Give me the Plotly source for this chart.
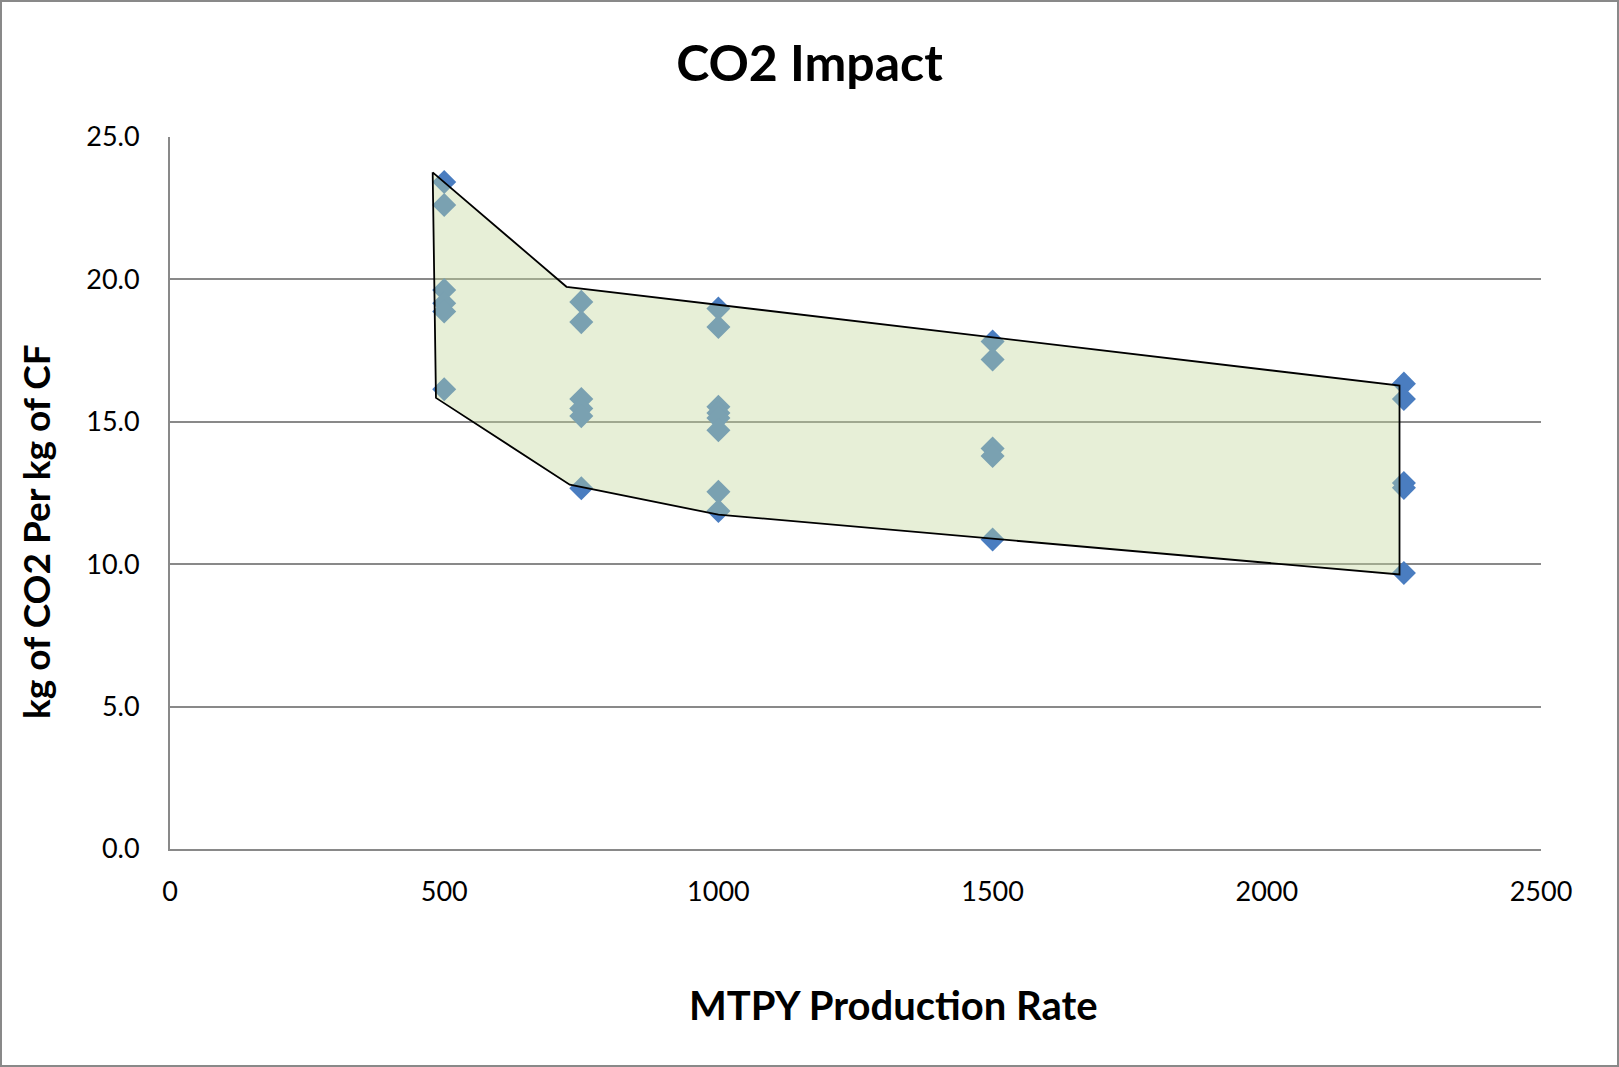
import plotly.graph_objects as go

# ---- data ----
rate_500 = [23.42, 22.61, 19.63, 19.16, 18.87, 16.14]
rate_750 = [19.21, 18.50, 15.80, 15.47, 15.20, 12.67]
rate_1000 = [18.98, 18.33, 15.53, 15.31, 15.13, 14.70, 12.54, 11.87]
rate_1500 = [17.82, 17.19, 14.06, 13.80, 10.87]
rate_2250 = [16.34, 15.80, 12.85, 12.68, 9.69]
production_rates = [500, 750, 1000, 1500, 2250]

envelope_x = [479, 723, 2242, 2242, 1000, 729, 485, 479]
envelope_y = [23.76, 19.74, 16.27, 9.64, 11.74, 12.79, 15.84, 23.76]

x_ticks = [0, 500, 1000, 1500, 2000, 2500]
y_ticks = [0, 5, 10, 15, 20, 25]

xs, ys = [], []
for rate, vals in zip(production_rates, [rate_500, rate_750, rate_1000, rate_1500, rate_2250]):
    xs += [rate] * len(vals)
    ys += vals

W, H = 1619, 1067
L, R, T, B = 170, 78, 137, 218
PW, PH = W - L - R, H - T - B

FONT = "Lato"

fig = go.Figure()
fig.add_trace(go.Scatter(
    x=xs, y=ys, mode="markers",
    marker=dict(symbol="diamond", size=18.5, color="#4A7DC0", line=dict(width=0)),
    showlegend=False, hoverinfo="x+y",
))
fig.add_trace(go.Scatter(
    x=envelope_x, y=envelope_y, mode="lines", fill="toself",
    fillcolor="rgba(195,214,155,0.40)",
    line=dict(color="black", width=1.8),
    showlegend=False, hoverinfo="skip",
))

fig.update_layout(
    width=W, height=H,
    margin=dict(l=L, r=R, t=T, b=B, autoexpand=False),
    paper_bgcolor="white", plot_bgcolor="white",
    font=dict(family=FONT, color="black", size=27),
    title=dict(text="<b>CO2 Impact</b>", x=0.5, xref="container", xanchor="center",
               y=1 - 63 / H, yref="container", yanchor="middle",
               font=dict(family=FONT, size=50, color="black")),
    xaxis=dict(range=[0, 2500], tickvals=x_ticks, showgrid=False, zeroline=False,
               showline=True, linecolor="#898989", linewidth=2,
               ticks="", ticklabelstandoff=18, tickfont=dict(size=27)),
    yaxis=dict(range=[0, 25], tickvals=y_ticks, tickformat=".1f", showgrid=True,
               gridcolor="#898989", gridwidth=2, zeroline=False,
               showline=True, linecolor="#898989", linewidth=2,
               ticks="", ticklabelstandoff=23, tickfont=dict(size=27)),
    annotations=[
        dict(text="<b>MTPY Production Rate</b>", xref="paper", yref="paper",
             x=(893 - L) / PW, y=-(1005 - (H - B)) / PH, xanchor="center", yanchor="middle",
             showarrow=False, font=dict(family=FONT, size=40, color="black")),
        dict(text="<b>kg of CO2 Per kg of CF</b>", xref="paper", yref="paper",
             x=(35 - L) / PW, y=((H - B) - 532) / PH, xanchor="center", yanchor="middle",
             textangle=-90, showarrow=False, font=dict(family=FONT, size=37, color="black")),
    ],
    shapes=[
        dict(type="rect", xref="paper", yref="paper",
             x0=(1 - L) / PW, x1=1 + (R - 1) / PW, y0=-(B - 1) / PH, y1=1 + (T - 1) / PH,
             line=dict(color="#898989", width=2), fillcolor="rgba(0,0,0,0)", layer="above"),
    ],
)

fig.write_html("out.html")
